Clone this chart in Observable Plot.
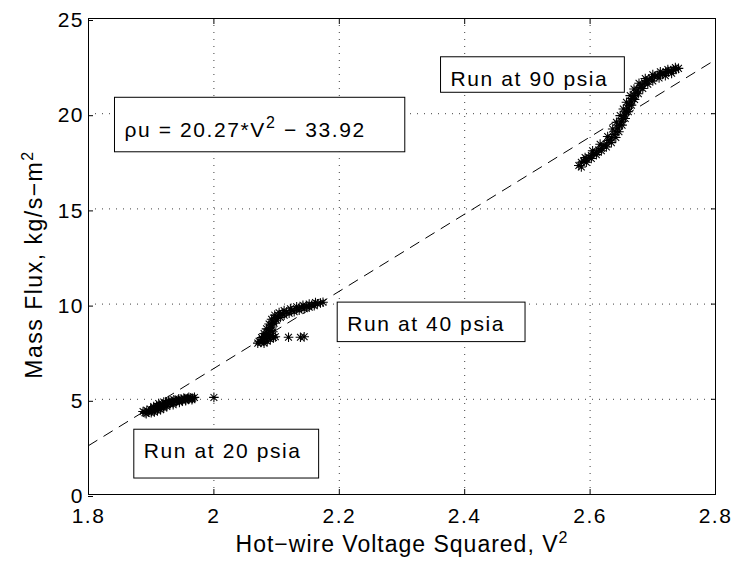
<!DOCTYPE html>
<html>
<head>
<meta charset="utf-8">
<script src="https://cdn.jsdelivr.net/npm/d3@7"></script>
<script src="https://cdn.jsdelivr.net/npm/@observablehq/plot@0.6"></script>
<style>
html, body { margin: 0; padding: 0; background: #fff; overflow: hidden; }
#chart svg { font-family: "Liberation Sans", Arial, Helvetica, sans-serif; color: #000; }
#chart g[aria-label="x-axis tick label"] text,
#chart g[aria-label="y-axis tick label"] text { font-size: 21px; letter-spacing: 1.5px; }
#chart g[aria-label="x-axis label"] text { font-size: 23px; letter-spacing: 1.0px; }
#chart g[aria-label="y-axis label"] text { font-size: 23px; letter-spacing: 1.5px; }
#chart g.annot text { font-size: 21px; letter-spacing: 1.6px; }
</style>
</head>
<body>
<div id="chart"></div>
<script>
// ---- Data ----
const xTicks = [1.8, 2.0, 2.2, 2.4, 2.6, 2.8];
const yTicks = [0, 5, 10, 15, 20, 25];
const xGrid = [2.0, 2.2, 2.4, 2.6];
const yGrid = [5, 10, 15, 20];

// Run at 20 psia (V^2, mass flux)
const run20V2 = [1.887, 1.890, 1.893, 1.896, 1.899, 1.901, 1.904, 1.906, 1.909, 1.911, 1.913, 1.915, 1.918, 1.920, 1.923, 1.925, 1.928, 1.930, 1.933, 1.935, 1.938, 1.940, 1.943, 1.945, 1.948, 1.950, 1.953, 1.955, 1.958, 1.960, 1.963, 1.966, 1.969,
  1.892, 1.900, 1.905, 1.910, 1.915, 1.920, 1.904, 1.912, 1.920, 1.928, 1.936, 1.944, 1.952, 1.960, 1.925, 1.935, 1.945, 1.955, 1.965, 2.000];
const run20Flux = [4.36, 4.30, 4.42, 4.34, 4.48, 4.38, 4.56, 4.44, 4.63, 4.50, 4.69, 4.57, 4.74, 4.64, 4.80, 4.71, 4.85, 4.77, 4.90, 4.82, 4.93, 4.87, 4.97, 4.91, 5.00, 4.94, 5.03, 4.97, 5.05, 5.00, 5.08, 5.05, 5.10,
  4.25, 4.30, 4.33, 4.40, 4.45, 4.55, 4.62, 4.78, 4.86, 4.93, 4.98, 5.02, 5.07, 5.10, 4.62, 4.72, 4.83, 4.92, 4.98, 5.10];

// Run at 40 psia
const run40V2 = [2.070, 2.072, 2.075, 2.077, 2.079, 2.080, 2.081, 2.083, 2.085, 2.085, 2.087, 2.088, 2.090, 2.090, 2.091, 2.093, 2.094, 2.095, 2.096, 2.098, 2.098, 2.100, 2.103, 2.106, 2.109, 2.112, 2.116, 2.120, 2.124, 2.128, 2.132, 2.136, 2.140, 2.144, 2.148, 2.152, 2.156, 2.160, 2.165, 2.170, 2.174,
  2.076, 2.080, 2.084, 2.088, 2.092, 2.097, 2.104, 2.112, 2.122, 2.132, 2.142, 2.152, 2.162, 2.090, 2.094,
  2.119, 2.138, 2.144];
const run40Flux = [7.95, 8.05, 7.98, 8.15, 8.08, 7.95, 8.30, 8.20, 8.50, 8.05, 8.40, 8.70, 8.60, 8.15, 8.90, 8.80, 9.10, 8.25, 9.00, 9.25, 8.28, 9.15, 9.40, 9.30, 9.50, 9.42, 9.58, 9.52, 9.66, 9.60, 9.74, 9.68, 9.82, 9.76, 9.88, 9.84, 9.94, 9.92, 10.02, 10.06, 10.10,
  8.25, 8.45, 8.70, 8.95, 9.20, 9.42, 9.55, 9.66, 9.76, 9.86, 9.94, 10.00, 10.08, 8.35, 8.55,
  8.26, 8.26, 8.28];

// Run at 90 psia
const run90V2 = [2.582, 2.586, 2.590, 2.594, 2.598, 2.602, 2.606, 2.610, 2.614, 2.618, 2.622, 2.626, 2.630, 2.634, 2.638, 2.641, 2.644, 2.647, 2.650, 2.653, 2.655, 2.658, 2.660, 2.663, 2.665, 2.668, 2.670, 2.673, 2.676, 2.680, 2.683, 2.687, 2.690, 2.694, 2.698, 2.703, 2.707, 2.712, 2.716, 2.721, 2.725, 2.729, 2.733, 2.737, 2.741,
  2.586, 2.594, 2.602, 2.610, 2.618, 2.626, 2.634, 2.641, 2.646, 2.651, 2.656, 2.661, 2.666, 2.671, 2.677, 2.684, 2.692, 2.700, 2.710, 2.720, 2.730,
  2.592, 2.604, 2.616, 2.628, 2.636, 2.642, 2.648, 2.653, 2.658, 2.664, 2.670, 2.678, 2.688, 2.700, 2.712, 2.724, 2.736];
const run90Flux = [17.28, 17.45, 17.50, 17.62, 17.70, 17.80, 17.90, 17.98, 18.10, 18.18, 18.33, 18.42, 18.60, 18.72, 18.90, 19.05, 19.25, 19.40, 19.60, 19.75, 19.95, 20.10, 20.30, 20.45, 20.65, 20.80, 20.95, 21.08, 21.25, 21.38, 21.50, 21.62, 21.72, 21.80, 21.88, 21.95, 22.02, 22.06, 22.12, 22.17, 22.22, 22.26, 22.30, 22.33, 22.38,
  17.20, 17.45, 17.65, 17.85, 18.05, 18.25, 18.48, 18.75, 19.05, 19.40, 19.75, 20.10, 20.45, 20.75, 21.05, 21.32, 21.55, 21.72, 21.88, 22.00, 22.12,
  17.70, 18.05, 18.40, 18.80, 19.20, 19.55, 19.90, 20.25, 20.60, 20.95, 21.30, 21.60, 21.85, 22.05, 22.20, 22.32, 22.42];

// Linear fit printed in the figure: rho*u = 20.27*V^2 - 33.92
const fitSlope = 20.27;
const fitIntercept = -33.92;
const fitRange = [1.8, 2.8];

// Annotations: text, and the data-space anchor of its left edge / vertical middle
const annotLabels = ["ρu = 20.27*V² − 33.92", "Run at 90 psia", "Run at 40 psia", "Run at 20 psia"];
const annotX = [1.8574, 2.3774, 2.2126, 1.8882];
const annotY = [19.13, 21.83, 8.966, 2.295];

// ---- Build tables ----
const toRows = (xs, ys) => xs.map((x, i) => ({x, y: ys[i]}));
const points = [
  ...toRows(run20V2, run20Flux),
  ...toRows(run40V2, run40Flux),
  ...toRows(run90V2, run90Flux)
];
const fitLine = fitRange.map(v => ({x: v, y: fitSlope * v + fitIntercept}));
const annots = annotLabels.map((t, i) => ({text: t, x: annotX[i], y: annotY[i]}));

// MATLAB-like 8-armed asterisk marker
const asterisk = {
  draw(context, size) {
    const r = Math.sqrt(size / Math.PI);
    const d = r * Math.SQRT1_2;
    context.moveTo(-r, 0); context.lineTo(r, 0);
    context.moveTo(0, -r); context.lineTo(0, r);
    context.moveTo(-d, -d); context.lineTo(d, d);
    context.moveTo(-d, d); context.lineTo(d, -d);
  }
};

const fmt = d => String(+d.toFixed(1));

const chart = Plot.plot({
  width: 735,
  height: 566,
  marginLeft: 88,
  marginRight: 20,
  marginTop: 18,
  marginBottom: 72,
  x: {domain: [1.8, 2.8]},
  y: {domain: [0, 25]},
  marks: [
    Plot.gridX(xGrid, {stroke: "#000", strokeOpacity: 0.75, strokeDasharray: "1,6"}),
    Plot.gridY(yGrid, {stroke: "#000", strokeOpacity: 0.75, strokeDasharray: "1,6"}),
    Plot.line(fitLine, {x: "x", y: "y", stroke: "#000", strokeWidth: 1, strokeDasharray: "10,8", clip: true}),
    Plot.dot(points, {x: "x", y: "y", symbol: asterisk, r: 4.8, fill: "none", stroke: "#000", strokeWidth: 1.05}),
    Plot.axisX(xTicks, {anchor: "bottom", tickSize: -5, tickPadding: 19, tickFormat: fmt,
      label: "Hot−wire Voltage Squared, V²", labelAnchor: "center", labelOffset: 57, labelArrow: "none"}),
    Plot.axisX(xTicks, {anchor: "top", tickSize: -5, fill: "none", label: null}),
    Plot.axisY(yTicks, {anchor: "left", tickSize: -5, tickPadding: 9.5, dy: 2, tickFormat: fmt,
      label: "Mass Flux, kg/s−m²", labelAnchor: "center", labelOffset: 63, labelArrow: "none"}),
    Plot.axisY(yTicks, {anchor: "right", tickSize: -5, fill: "none", label: null}),
    Plot.frame({stroke: "#000", strokeWidth: 1}),
    Plot.text(annots, {x: "x", y: "y", text: "text", textAnchor: "start", lineAnchor: "middle", fill: "#000", className: "annot"})
  ]
});

document.getElementById("chart").appendChild(chart);

// the y label sits a little below the axis centre in the reference
const yLab = d3.select(chart).select('g[aria-label="y-axis label"]');
yLab.attr("transform", "translate(0,8) " + (yLab.attr("transform") || ""));

// raised "2" for the squared terms
d3.select(chart).selectAll("text").each(function() {
  const t = this.textContent;
  if (!t.includes("²")) return;
  const parts = t.split("²");
  const sel = d3.select(this);
  sel.text(null);
  parts.forEach((p, k) => {
    if (k > 0) {
      sel.append("tspan").attr("dy", -9).attr("font-size", 16).text("2");
      sel.append("tspan").attr("dy", 9).text(p);
    } else {
      sel.append("tspan").text(p);
    }
  });
});

// white boxes with a black edge behind each annotation text
const padL = 10;
const padR = [39, 16, 20, 17];
const padTop = [16.7, 9.8, 9.4, 9.3];
const padBottom = [10.8, 2.7, 7.1, 16.5];
d3.select(chart).selectAll("g.annot text").each(function(d, i) {
  const bb = this.getBBox();
  d3.select(this.parentNode).insert("rect", () => this)
    .attr("transform", this.getAttribute("transform"))
    .attr("x", bb.x - padL)
    .attr("y", bb.y - padTop[i])
    .attr("width", bb.width + padL + padR[i])
    .attr("height", bb.height + padTop[i] + padBottom[i])
    .attr("fill", "#fff")
    .attr("stroke", "#000")
    .attr("stroke-width", 1);
});
</script>
</body>
</html>
